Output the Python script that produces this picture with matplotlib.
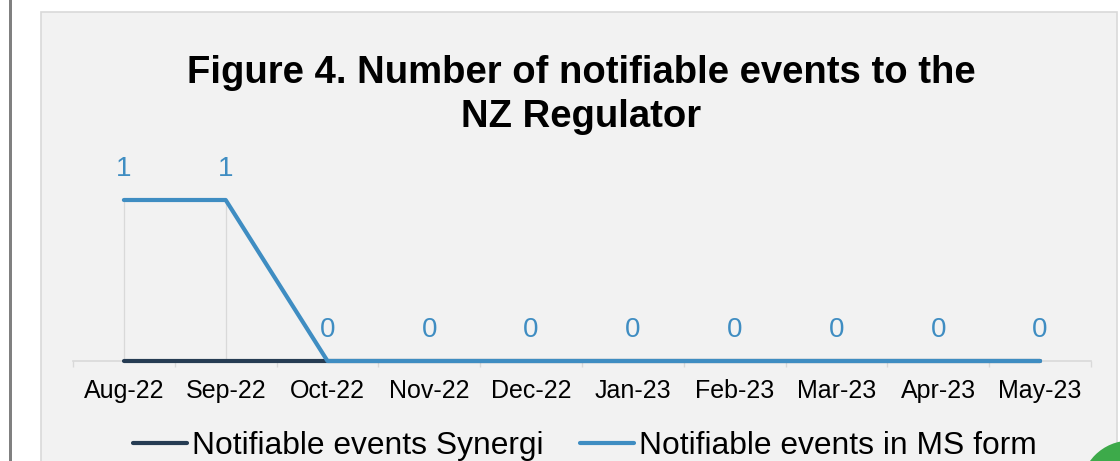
import matplotlib
matplotlib.use("Agg")
import matplotlib.pyplot as plt
from matplotlib.patches import Rectangle, Circle
from matplotlib.lines import Line2D

plt.rcParams['font.family'] = ['Liberation Sans', 'DejaVu Sans']

# data
months = ['Aug-22', 'Sep-22', 'Oct-22', 'Nov-22', 'Dec-22',
          'Jan-23', 'Feb-23', 'Mar-23', 'Apr-23', 'May-23']
synergi = [0, 0, 0, 0, 0, 0, 0, 0, 0, 0]
ms_form = [1, 1, 0, 0, 0, 0, 0, 0, 0, 0]

c_ms = '#3F8DC2'
c_syn = '#263C53'
c_grid = '#D9D9D9'

W, H = 1120, 461
fig = plt.figure(figsize=(W / 100, H / 100), dpi=100, facecolor='white')

# chart area background + left page line (behind the axes)
fig.patches.append(Rectangle((41 / W, -0.05), (1117 - 41) / W, 1.05 - 12 / H,
                             transform=fig.transFigure, facecolor='#F2F2F2',
                             edgecolor=c_grid, lw=1.2, zorder=-2))
fig.patches.append(Rectangle((9 / W, 0), 2.5 / W, 1, transform=fig.transFigure,
                             facecolor='#808080', edgecolor='none', zorder=-2))

# plot area
ax = fig.add_axes([73 / W, (H - 361) / H, (1091 - 73) / W, 1.2 * 161 / H])
ax.set_facecolor('none')
x = list(range(len(months)))

# drop lines
tops = [max(a, b) for a, b in zip(synergi, ms_form)]
ax.vlines(x, 0, tops, color=c_grid, lw=0.9, zorder=1)

ax.plot(x, synergi, color=c_syn, lw=3.0, solid_capstyle='round', zorder=3,
        clip_on=False)
ax.plot(x, ms_form, color=c_ms, lw=3.0, solid_capstyle='round', zorder=4,
        clip_on=False)

for xi, v in zip(x, ms_form):
    ax.annotate(str(v), (xi, v), xytext=(0, 17.5), textcoords='offset points',
                ha='center', va='baseline', fontsize=20, color=c_ms)

ax.set_xlim(-0.5, len(months) - 0.5)
ax.set_ylim(0, 1.2)
for s in ['top', 'right', 'left']:
    ax.spines[s].set_visible(False)
ax.spines['bottom'].set_color(c_grid)
ax.spines['bottom'].set_linewidth(1.2)
ax.spines['bottom'].set_zorder(0.5)
ax.set_yticks([])
ax.set_xticks(x)
ax.set_xticklabels(months, fontsize=18)
ax.tick_params(axis='x', which='major', length=0, pad=13)
ax.set_xticks([i - 0.5 for i in range(len(months) + 1)], minor=True)
ax.tick_params(axis='x', which='minor', length=4.5, width=1.0, color=c_grid,
               direction='out')

# title
fig.text(581 / W, 1 - 83 / H, 'Figure 4. Number of notifiable events to the',
         ha='center', va='baseline', fontsize=27.5, fontweight='bold')
fig.text(581 / W, 1 - 127 / H, 'NZ Regulator',
         ha='center', va='baseline', fontsize=27.5, fontweight='bold')

# legend
handles = [Line2D([], [], color=c_syn, lw=3.0, solid_capstyle='round'),
           Line2D([], [], color=c_ms, lw=3.0, solid_capstyle='round')]
fig.legend(handles, ['Notifiable events Synergi', 'Notifiable events in MS form'],
           loc='center', bbox_to_anchor=(585 / W, 1 - 446 / H), ncol=2,
           frameon=False, fontsize=22.9, handlelength=1.7, handletextpad=0.16,
           columnspacing=1.16, borderpad=0)

# green circle in bottom-right corner
fig.patches.append(Circle((11.30, -0.29), 0.494, transform=fig.dpi_scale_trans,
                          facecolor='#3DAA4A', edgecolor='none', zorder=5))

fig.savefig('out.png', dpi=100)
